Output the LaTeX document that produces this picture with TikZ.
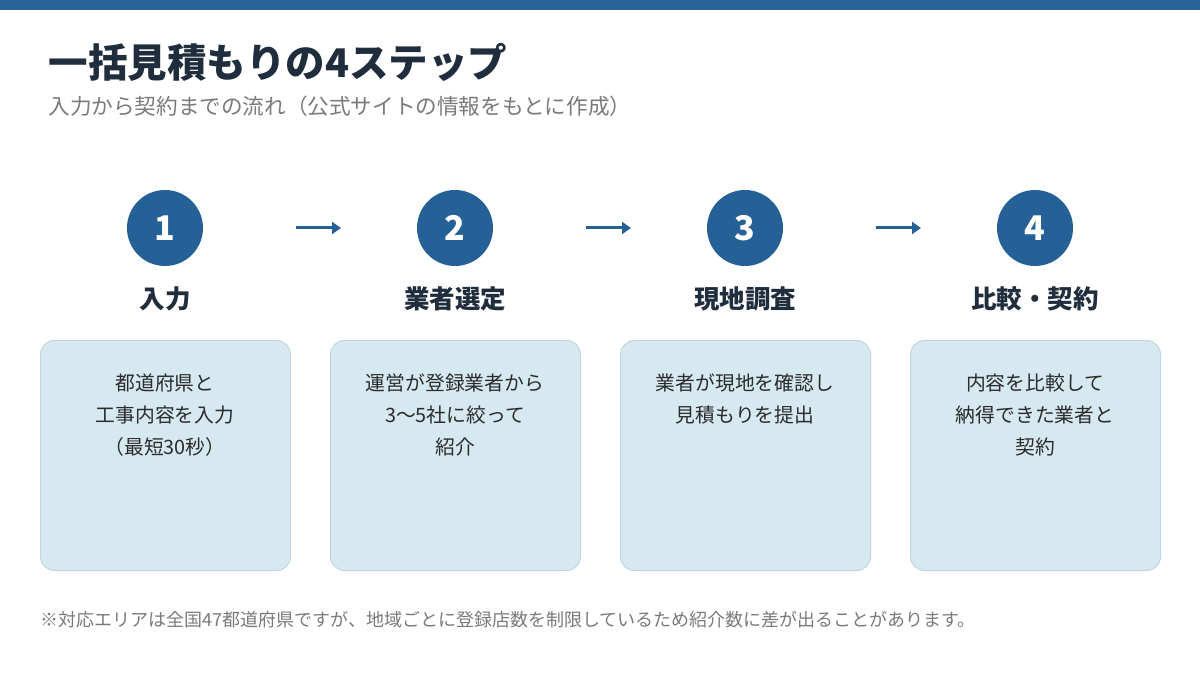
\documentclass[tikz,border=0pt]{standalone}
\usepackage{fontspec}
\setmainfont{Noto Sans CJK JP}
\usetikzlibrary{arrows.meta}
\definecolor{bar}{HTML}{2A6496}
\definecolor{navy}{HTML}{1F2D3D}
\definecolor{circ}{HTML}{256196}
\definecolor{gray1}{HTML}{7A7A7A}
\definecolor{boxf}{HTML}{D6E8F0}
\definecolor{boxd}{HTML}{C3D6E0}
\definecolor{txt}{HTML}{2B2B2B}
\begin{document}
\begin{tikzpicture}[x=1pt,y=-1pt,
 num/.style={circle,fill=circ,minimum size=76pt,inner sep=0,text=white,font=\fontsize{34}{34}\selectfont\bfseries},
 lab/.style={text=navy,font=\fontsize{25.5}{26}\selectfont\bfseries},
 box/.style={draw=boxd,line width=1pt,fill=boxf,rounded corners=14pt,minimum width=250pt,minimum height=230pt,anchor=north west},
 btxt/.style={text=txt,align=center,font=\fontsize{19.8}{32}\selectfont,anchor=north},
 arr/.style={draw=circ,line width=3pt,-{Triangle[length=9pt,width=12pt]}}]
\useasboundingbox (0,0) rectangle (1200,700);
\fill[white] (0,0) rectangle (1200,700);
\fill[bar] (0,0) rectangle (1200,10);
\node[anchor=west,text=navy,font=\fontsize{39.5}{40}\selectfont\bfseries] (title) at (45,62) {一括見積もりの4ステップ};
\node[anchor=west,text=gray1,font=\fontsize{21.6}{22}\selectfont] (sub) at (45,106) {入力から契約までの流れ（公式サイトの情報をもとに作成）};
\foreach \i/\x/\l/\t in {1/165/入力/{都道府県と\\工事内容を入力\\（最短30秒）},
 2/455/業者選定/{運営が登録業者から\\3〜5社に絞って\\紹介},
 3/745/現地調査/{業者が現地を確認し\\見積もりを提出},
 4/1035/比較・契約/{内容を比較して\\納得できた業者と\\契約}}{
 \node[num] (c\i) at (\x,228) {\i};
 \node[lab] (l\i) at (\x,299) {\l};
 \node[box] (b\i) at (\x-125,340) {};
 \node[btxt] (t\i) at (\x,370) {\t};
}
\coordinate (a1s) at (296,228); \coordinate (a1e) at (341,228);
\coordinate (a2s) at (586,228); \coordinate (a2e) at (631,228);
\coordinate (a3s) at (876,228); \coordinate (a3e) at (921,228);
\draw[arr] (a1s) -- (a1e);
\draw[arr] (a2s) -- (a2e);
\draw[arr] (a3s) -- (a3e);
\node[anchor=west,text=gray1,font=\fontsize{18}{18}\selectfont] (foot) at (37,620) {※対応エリアは全国47都道府県ですが、地域ごとに登録店数を制限しているため紹介数に差が出ることがあります。};
\end{tikzpicture}
\end{document}
